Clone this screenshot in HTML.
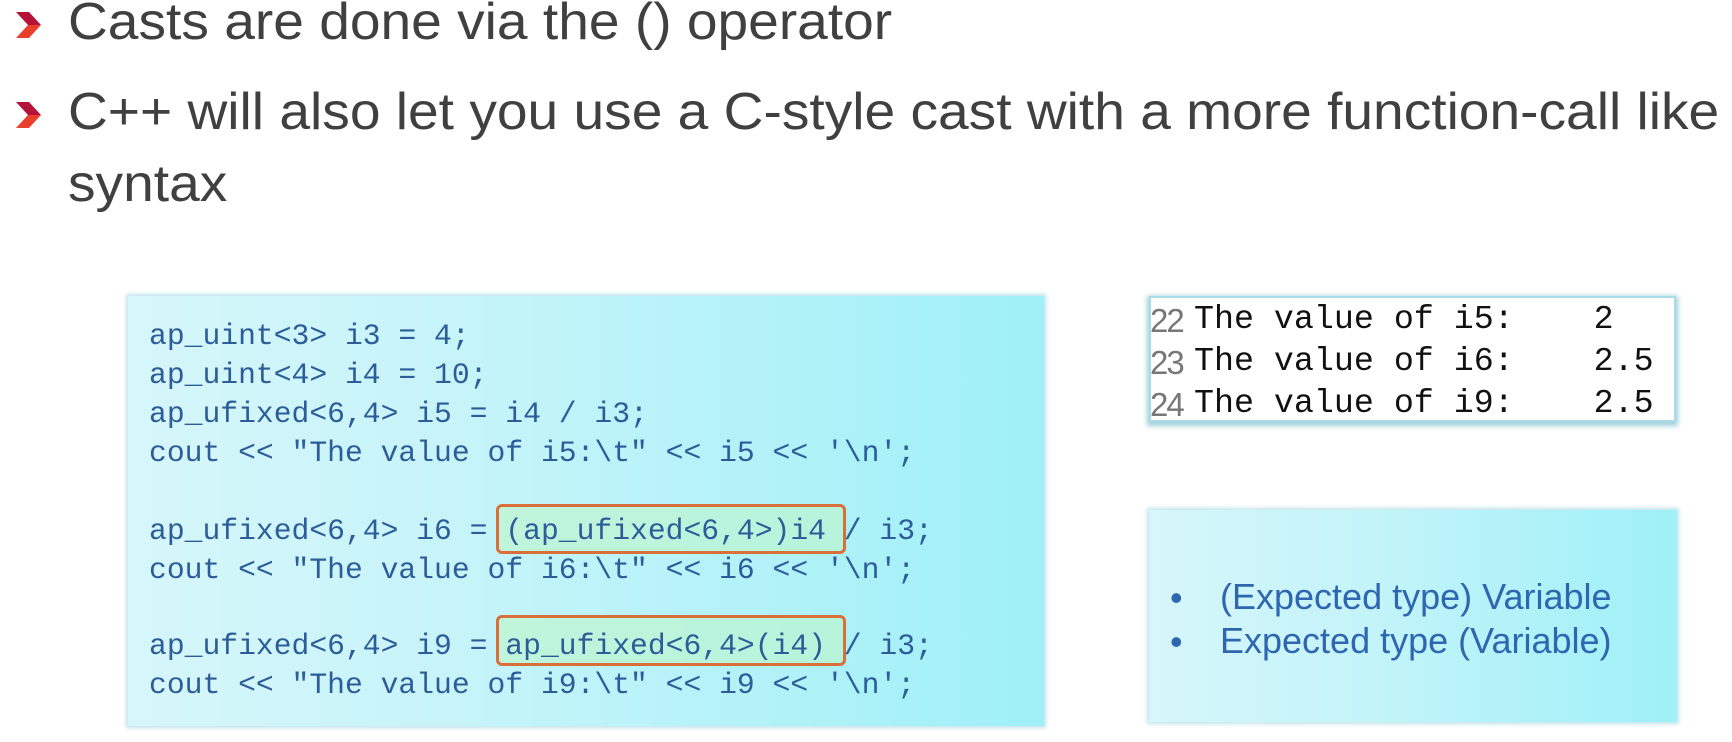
<!DOCTYPE html>
<html><head><meta charset="utf-8"><style>
body{margin:0;width:1732px;height:742px;background:#fff;position:relative;overflow:hidden;font-family:"Liberation Sans",sans-serif}
.t{position:absolute;color:#404040;font-size:52px;white-space:nowrap;transform:scaleX(1.06);transform-origin:0 0}
.chev{position:absolute;width:30px;height:26px}
.box{position:absolute;background:linear-gradient(90deg,#d6f6fa 0%,#c4f4f9 40%,#9ff0f8 100%);box-shadow:0 0 4px 2px #bfe3ea}
.code{position:absolute;font-family:"Liberation Mono",monospace;font-size:29.7px;color:#2c5d99;white-space:pre}
.hl{position:absolute;border:3px solid #d9703a;border-radius:6px;background:rgba(190,245,200,0.6)}
.out{position:absolute;font-family:"Liberation Mono",monospace;font-size:33.3px;color:#111;white-space:pre}
.ln{position:absolute;font-family:"Liberation Sans",sans-serif;font-size:33px;color:#777;letter-spacing:-2px}
.bl{position:absolute;font-size:36px;color:#2e66b0;white-space:nowrap}
</style></head><body>
<svg class="chev" style="left:16px;top:12px" viewBox="0 0 30 26"><polygon points="0,0 13,0 25,13 12,13" fill="#b5123a"/><polygon points="12,13 25,13 13,26 0,26" fill="#e8402a"/></svg>
<svg class="chev" style="left:16px;top:102px" viewBox="0 0 30 26"><polygon points="0,0 13,0 25,13 12,13" fill="#b5123a"/><polygon points="12,13 25,13 13,26 0,26" fill="#e8402a"/></svg>
<div class="t" style="left:68px;top:-8px">Casts are done via the () operator</div>
<div class="t" style="left:68px;top:82px">C++ will also let you use a C-style cast with a more function-call like</div>
<div class="t" style="left:68px;top:154px">syntax</div>

<div class="box" style="left:128px;top:296px;width:916px;height:430px"></div>
<div class="hl" style="left:496px;top:504px;width:344px;height:44px"></div>
<div class="hl" style="left:496px;top:615px;width:344px;height:45px"></div>
<div class="code" style="left:149px;top:317px;line-height:39px">ap_uint&lt;3&gt; i3 = 4;
ap_uint&lt;4&gt; i4 = 10;
ap_ufixed&lt;6,4&gt; i5 = i4 / i3;
cout &lt;&lt; "The value of i5:\t" &lt;&lt; i5 &lt;&lt; '\n';</div>
<div class="code" style="left:149px;top:512px;line-height:39px">ap_ufixed&lt;6,4&gt; i6 = (ap_ufixed&lt;6,4&gt;)i4 / i3;
cout &lt;&lt; "The value of i6:\t" &lt;&lt; i6 &lt;&lt; '\n';</div>
<div class="code" style="left:149px;top:627px;line-height:39px">ap_ufixed&lt;6,4&gt; i9 = ap_ufixed&lt;6,4&gt;(i4) / i3;
cout &lt;&lt; "The value of i9:\t" &lt;&lt; i9 &lt;&lt; '\n';</div>

<div style="position:absolute;left:1149px;top:296px;width:527px;height:126px;background:#fff;box-shadow:0 2px 5px 2px #9fcfda;border:2px solid #a9dbe6;box-sizing:border-box"></div>
<div class="ln" style="left:1150px;top:300px;line-height:42px">22<br>23<br>24</div>
<div class="out" style="left:1194px;top:298px;line-height:42px">The value of i5:    2
The value of i6:    2.5
The value of i9:    2.5</div>

<div class="box" style="left:1149px;top:510px;width:528px;height:212px"></div>
<div class="bl" style="left:1170px;top:577px">•</div>
<div class="bl" style="left:1170px;top:621px">•</div>
<div class="bl" style="left:1220px;top:576px">(Expected type) Variable</div>
<div class="bl" style="left:1220px;top:620px">Expected type (Variable)</div>
</body></html>
